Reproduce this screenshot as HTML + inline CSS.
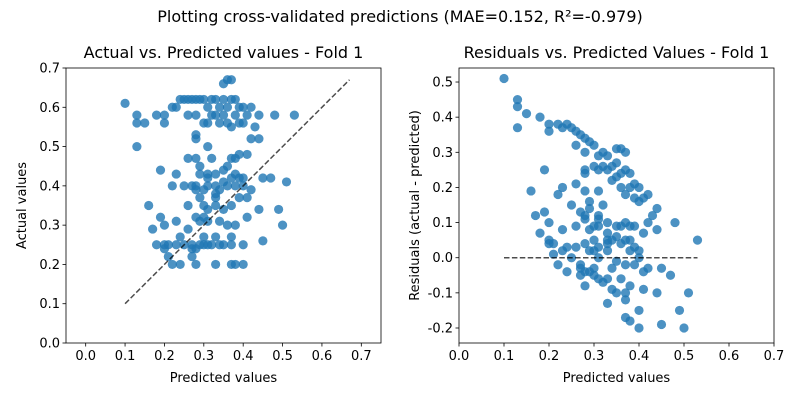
<!DOCTYPE html>
<html><head><meta charset="utf-8"><style>
body{margin:0;background:#fff;}
svg{display:block;font-family:"DejaVu Sans","Liberation Sans",sans-serif;}
</style></head><body>
<svg id="fig" width="800" height="400" viewBox="0 0 800 400">
<text x="400" y="22" text-anchor="middle" font-size="16">Plotting cross-validated predictions (MAE=0.152, R²=-0.979)</text>
<g id="ax1"></g>
<g id="ax2"></g>
</svg>
<script>
const rows = [
 [0.62,[0.24,0.25,0.26,0.27,0.28,0.29,0.30,0.32,0.33,0.35,0.37,0.38]],
 [0.60,[0.22,0.23,0.31,0.34,0.36,0.39,0.40,0.42]],
 [0.61,[0.10]],
 [0.58,[0.13,0.18,0.20,0.26,0.28,0.32,0.33,0.35,0.38,0.41,0.44,0.48,0.53]],
 [0.56,[0.13,0.15,0.20,0.30,0.31,0.34,0.36,0.39,0.40]],
 [0.55,[0.37,0.43]],
 [0.67,[0.36,0.37]],
 [0.66,[0.35]],
 [0.52,[0.42,0.44,0.28]],
 [0.50,[0.13,0.31]],
 [0.53,[0.28]],
 [0.47,[0.26,0.28,0.32,0.37,0.38]],
 [0.48,[0.39,0.41]],
 [0.44,[0.19,0.35]],
 [0.45,[0.29,0.36]],
 [0.43,[0.23,0.29,0.31,0.33,0.38]],
 [0.42,[0.31,0.37,0.39,0.40,0.45,0.47]],
 [0.40,[0.22,0.25,0.27,0.28,0.31,0.33,0.36,0.38,0.40]],
 [0.41,[0.35,0.51]],
 [0.39,[0.28,0.30,0.34,0.42]],
 [0.38,[0.33]],
 [0.37,[0.29,0.33,0.39,0.41]],
 [0.35,[0.16,0.26,0.30,0.33,0.37]],
 [0.34,[0.31,0.35,0.44,0.49]],
 [0.32,[0.19,0.30,0.41,0.28]],
 [0.31,[0.23,0.29,0.31,0.34]],
 [0.30,[0.20,0.36,0.38,0.50]],
 [0.29,[0.17,0.26]],
 [0.27,[0.24,0.30,0.33,0.37]],
 [0.26,[0.45]],
 [0.25,[0.18,0.20,0.21,0.23,0.25,0.27,0.29,0.30,0.31,0.32,0.34,0.35,0.37,0.40]],
 [0.24,[0.20,0.27,0.28]],
 [0.22,[0.21,0.27]],
 [0.20,[0.22,0.24,0.28,0.33,0.37,0.38,0.40]]
];
const predicted=[], actual=[];
rows.forEach(r=>r[1].forEach(p=>{predicted.push(p);actual.push(r[0]);}));
const residuals = predicted.map((p,i)=>actual[i]-p);
const xTicks1=[0,0.1,0.2,0.3,0.4,0.5,0.6,0.7];
const yTicks1=[0,0.1,0.2,0.3,0.4,0.5,0.6,0.7];
const xTicks2=[0,0.1,0.2,0.3,0.4,0.5,0.6,0.7];
const yTicks2=[-0.2,-0.1,0,0.1,0.2,0.3,0.4,0.5];
const NS="http://www.w3.org/2000/svg";
function mk(parent,tag,attrs,text){const e=document.createElementNS(NS,tag);for(const k in attrs)e.setAttribute(k,attrs[k]);if(text!==undefined)e.textContent=text;parent.appendChild(e);return e;}
function axes(g,box,xd,yd,xt,yt,title,xl,yl){
 const [L,T,R,B]=box;
 const sx=v=>L+(v-xd[0])/(xd[1]-xd[0])*(R-L);
 const sy=v=>B-(v-yd[0])/(yd[1]-yd[0])*(B-T);
 xt.forEach(v=>{const x=sx(v);mk(g,'line',{x1:x,x2:x,y1:B,y2:B+3.5,stroke:'#000','stroke-width':0.8});
  const t=mk(g,'text',{x:x,y:B+17,'text-anchor':'middle','font-size':13},v.toFixed(1));
  });
 yt.forEach(v=>{const y=sy(v);mk(g,'line',{x1:L-3.5,x2:L,y1:y,y2:y,stroke:'#000','stroke-width':0.8});
  const t=mk(g,'text',{x:L-6,y:y+4.5,'text-anchor':'end','font-size':13},(Math.abs(v)<1e-9?0:v).toFixed(1));
  });
 const tt=mk(g,'text',{x:(L+R)/2,y:T-10,'text-anchor':'middle','font-size':16},title);
 
 const xa=mk(g,'text',{x:(L+R)/2,y:B+39,'text-anchor':'middle','font-size':13},xl);
 
 const cy=(T+B)/2;
 const ya=mk(g,'text',{x:0,y:0,'text-anchor':'middle','font-size':13,transform:`translate(${L-40},${cy}) rotate(-90)`},yl);
 
 return {sx,sy,frame:()=>{const f=mk(g,'rect',{x:L,y:T,width:R-L,height:B-T,fill:'none',stroke:'#000','stroke-width':0.8});}};
}
const g1=document.getElementById('ax1'), g2=document.getElementById('ax2');
const a1=axes(g1,[66,68,381,343],[-0.05,0.75],[0,0.7],xTicks1,yTicks1,'Actual vs. Predicted values - Fold 1','Predicted values','Actual values');
const a2=axes(g2,[459,68,774,343],[0,0.7],[-0.2427,0.5399],xTicks2,yTicks2,'Residuals vs. Predicted Values - Fold 1','Predicted values','Residuals (actual - predicted)');
predicted.forEach((p,i)=>{
 const c=mk(g1,'circle',{cx:a1.sx(p),cy:a1.sy(actual[i]),r:4.6,fill:'#1f77b4','fill-opacity':0.8});
 
 
 const d=mk(g2,'circle',{cx:a2.sx(p),cy:a2.sy(residuals[i]),r:4.6,fill:'#1f77b4','fill-opacity':0.8});
 
 
});
const lo=Math.min(...predicted,...actual), hi=Math.max(...predicted,...actual);
const l1=mk(g1,'line',{x1:a1.sx(lo),y1:a1.sy(lo),x2:a1.sx(hi),y2:a1.sy(hi),stroke:'#000','stroke-opacity':0.7,'stroke-width':1.5,'stroke-dasharray':'5.5,2.4'});


const pmin=Math.min(...predicted), pmax=Math.max(...predicted);
const l2=mk(g2,'line',{x1:a2.sx(pmin),y1:a2.sy(0),x2:a2.sx(pmax),y2:a2.sy(0),stroke:'#000','stroke-opacity':0.7,'stroke-width':1.5,'stroke-dasharray':'5.5,2.4'});


a1.frame();a2.frame();
</script>
</body></html>
